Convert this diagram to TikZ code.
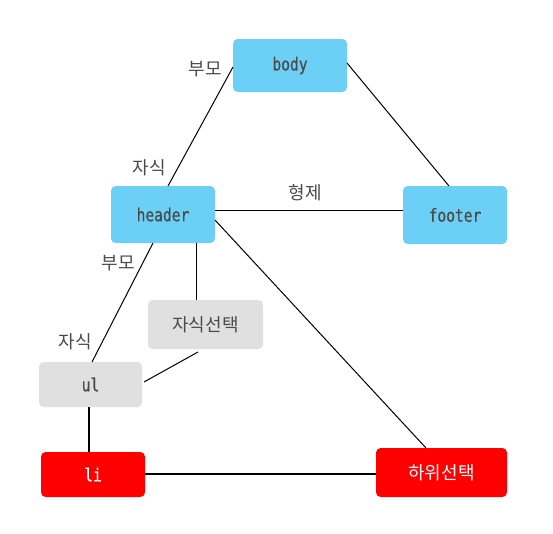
\documentclass[tikz,border=0pt]{standalone}
\usepackage{fontspec}
\newfontfamily\mono[FakeStretch=0.81,FakeBold=0.6]{DejaVu Sans Mono}
\newfontfamily\kr{Noto Sans CJK KR}
\definecolor{bluebox}{HTML}{6CCFF6}
\definecolor{graybox}{HTML}{E0E0E0}
\definecolor{redbox}{HTML}{FF0000}
\definecolor{txt}{HTML}{4A4A4A}
\tikzset{
  box/.style={rounded corners=3.5pt, inner sep=0pt, anchor=center},
  monof/.style={font=\mono\fontsize{13.5}{15}\selectfont},
  krf/.style={font=\kr\fontsize{13.5}{15}\selectfont},
  bluen/.style={box, fill=bluebox, text=txt, monof},
  grayn/.style={box, fill=graybox, text=txt},
  redn/.style={box, fill=redbox, text=white},
  lbl/.style={text=txt, krf, inner sep=0pt},
  thin/.style={draw=black, line width=0.75pt},
  thick2/.style={draw=black, line width=1.5pt},
}
\begin{document}
\begin{tikzpicture}[x=0.75pt,y=-0.75pt]
\useasboundingbox (0,0) rectangle (553,533);
\node[bluen, minimum width=114*0.75pt, minimum height=53*0.75pt] (body) at (290,65.5) {body};
\node[bluen, minimum width=104*0.75pt, minimum height=57*0.75pt] (header) at (163,214.5) {header};
\node[bluen, minimum width=104*0.75pt, minimum height=58*0.75pt] (footer) at (455,215) {footer};
\node[grayn, krf, minimum width=115*0.75pt, minimum height=49*0.75pt] (sel) at (205.5,324.5) {자식선택};
\node[grayn, monof, minimum width=103*0.75pt, minimum height=45*0.75pt] (ul) at (90.5,384.5) {ul};
\node[redn, monof, minimum width=104*0.75pt, minimum height=45*0.75pt] (li) at (93,474.5) {li};
\node[redn, krf, minimum width=131*0.75pt, minimum height=49*0.75pt] (desc) at (441.5,472.5) {하위선택};

\coordinate (bodyL) at (233,67);
\coordinate (headerT) at (168,186);
\coordinate (bodyR) at (347,63);
\coordinate (footerT) at (449,186);
\coordinate (headerR) at (215,210);
\coordinate (footerL) at (403,210);
\coordinate (headerB1) at (153,243);
\coordinate (ulT) at (92,362);
\coordinate (headerB2) at (196.5,243);
\coordinate (selT) at (196.5,300);
\coordinate (selB) at (198,352);
\coordinate (ulR) at (144,382);
\coordinate (ulB) at (89,407);
\coordinate (liT) at (89,452);
\coordinate (liR) at (145,474);
\coordinate (descL) at (376,474);
\coordinate (headerR2) at (215,220);
\coordinate (descT) at (426,448);

\draw[thin] (bodyL) -- (headerT);
\draw[thin] (bodyR) -- (footerT);
\draw[thin] (headerR) -- (footerL);
\draw[thin] (headerB1) -- (ulT);
\draw[thin] (headerB2) -- (selT);
\draw[thin] (selB) -- (ulR);
\draw[thick2] (ulB) -- (liT);
\draw[thick2] (liR) -- (descL);
\draw[thin] (headerR2) -- (descT);

\node[lbl] (l1) at (205.5,69) {부모};
\node[lbl] (l2) at (149,168) {자식};
\node[lbl] (l3) at (305,193) {형제};
\node[lbl] (l4) at (118,263) {부모};
\node[lbl] (l5) at (75,342) {자식};
\end{tikzpicture}
\end{document}
